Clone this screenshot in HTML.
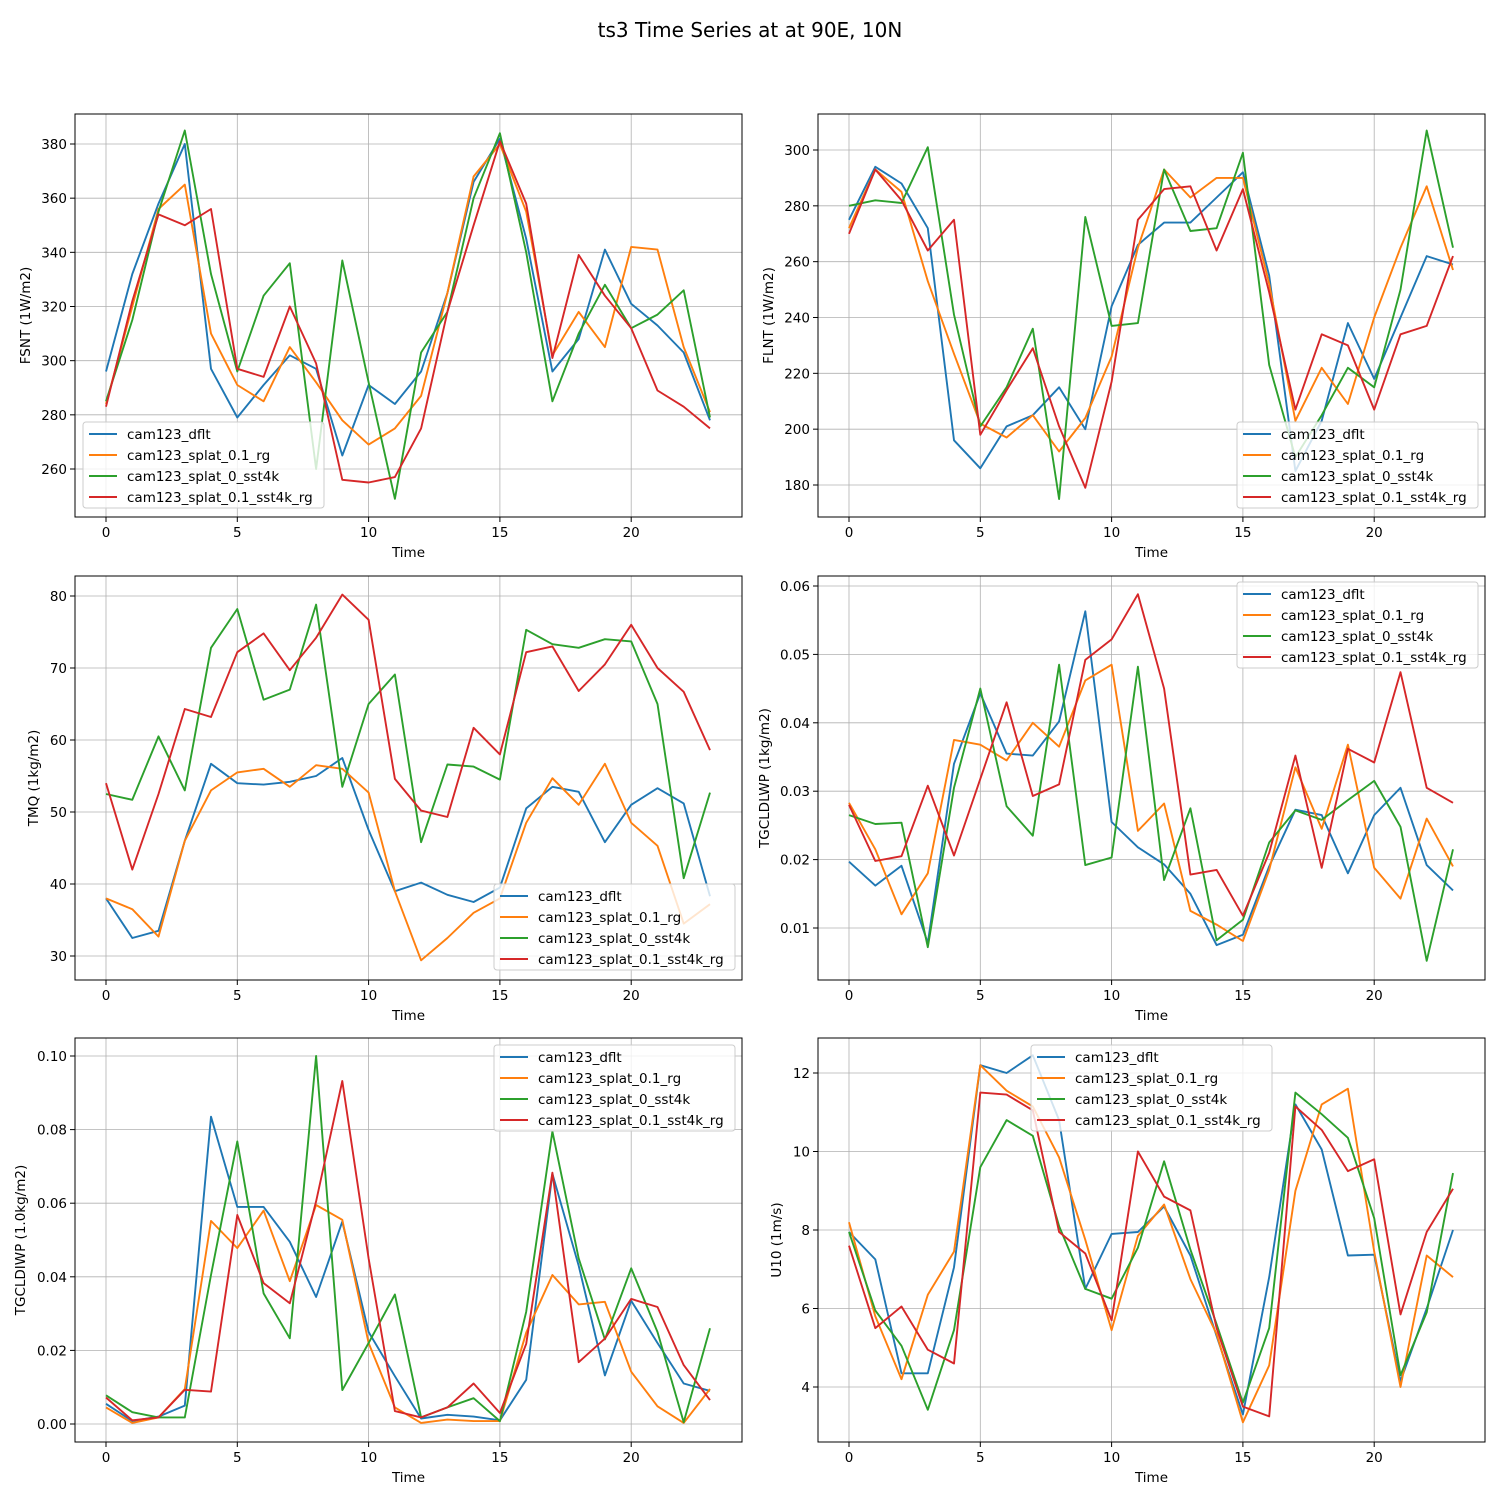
<!DOCTYPE html>
<html><head><meta charset="utf-8"><style>
body{margin:0;background:#fff;font-family:"DejaVu Sans",sans-serif}
svg text{font-family:"DejaVu Sans","Liberation Sans",sans-serif}
</style></head><body>
<svg id="chart" width="1500" height="1500" xmlns="http://www.w3.org/2000/svg">
<text x="750" y="37" text-anchor="middle" font-size="20">ts3 Time Series at at 90E, 10N</text>
</svg>
<script>
const seriesNames = ["cam123_dflt","cam123_splat_0.1_rg","cam123_splat_0_sst4k","cam123_splat_0.1_sst4k_rg"];
const colors = ["#1f77b4","#ff7f0e","#2ca02c","#d62728"];
const xTicks = [0,5,10,15,20];
const fsntDflt = [296,332,358,380,297,279,291,302,297,265,291,284,296,325,366,382,345,296,308,341,321,313,303,278];
const fsntRg = [284,320,356,365,310,291,285,305,292,278,269,275,287,325,368,380,355,302,318,305,342,341,305,281];
const fsntSst = [285,315,355,385,332,296,324,336,260,337,292,249,303,318,360,384,340,285,310,328,312,317,326,279];
const fsntSstRg = [283,322,354,350,356,297,294,320,299,256,255,257,275,318,350,381,358,301,339,324,312,289,283,275];
const flntDflt = [275,294,288,272,196,186,201,205,215,200,244,266,274,274,283,292,255,185,203,238,218,240,262,259];
const flntRg = [272,293,285,253,227,202,197,205,192,204,226,265,293,283,290,290,252,203,222,209,240,265,287,257];
const flntSst = [280,282,281,301,241,201,215,236,175,276,237,238,293,271,272,299,223,190,205,222,215,250,307,265];
const flntSstRg = [270,293,282,264,275,198,214,229,201,179,217,275,286,287,264,286,249,207,234,230,207,234,237,262];
const tmqDflt = [38,32.5,33.5,46,56.7,54,53.8,54.2,55,57.5,47.5,39,40.2,38.5,37.5,39.5,50.5,53.5,52.8,45.8,51,53.3,51.2,38.3];
const tmqRg = [38,36.5,32.7,46,53,55.5,56,53.5,56.5,56,52.7,39,29.4,32.5,36,38,48.5,54.7,51,56.7,48.5,45.3,34.5,37.2];
const tmqSst = [52.5,51.7,60.5,53,72.8,78.2,65.6,67,78.8,53.5,65,69.1,45.8,56.6,56.3,54.5,75.3,73.3,72.8,74,73.7,65,40.8,52.7];
const tmqSstRg = [54,42,52.5,64.3,63.2,72.2,74.8,69.7,74.2,80.2,76.7,54.6,50.2,49.3,61.7,58,72.2,73,66.8,70.5,76,70,66.7,58.6];
const lwpDflt = [.0197,.0162,.0191,.0078,.034,.0443,.0355,.0352,.0402,.0563,.0255,.0218,.0193,.015,.0075,.009,.019,.0273,.0265,.018,.0265,.0305,.0192,.0155];
const lwpRg = [.0283,.0215,.012,.018,.0375,.0368,.0345,.04,.0365,.0462,.0485,.0242,.0282,.0125,.0105,.0081,.0185,.0335,.0245,.0368,.0188,.0143,.026,.019];
const lwpSst = [.0265,.0252,.0254,.0072,.0305,.045,.0278,.0235,.0485,.0192,.0203,.0482,.017,.0275,.0082,.0112,.0225,.0272,.0258,.0287,.0315,.0248,.0052,.0215];
const lwpSstRg = [.028,.0198,.0205,.0308,.0206,.0318,.043,.0293,.031,.0492,.0522,.0588,.045,.0178,.0185,.0118,.021,.0352,.0188,.0362,.0342,.0474,.0305,.0283];
const iwpDflt = [.0055,.0008,.002,.005,.0835,.059,.059,.0495,.0345,.055,.025,.013,.0015,.0025,.002,.001,.012,.068,.043,.0132,.0335,.022,.011,.009];
const iwpRg = [.0045,.0003,.0018,.0095,.0552,.0478,.058,.0388,.0595,.0555,.022,.0045,.0003,.0012,.0008,.0008,.0248,.0405,.0325,.0332,.0142,.0048,.0003,.0095];
const iwpSst = [.0078,.0032,.0018,.0018,.0405,.0768,.0355,.0233,.1,.0092,.022,.0352,.0018,.0045,.007,.0008,.0305,.0795,.045,.023,.0423,.025,.0005,.026];
const iwpSstRg = [.0072,.001,.0018,.0093,.0088,.0568,.0383,.0328,.0605,.0932,.045,.0035,.0018,.0045,.011,.003,.0218,.0683,.0168,.0232,.034,.0318,.016,.0065];
const u10Dflt = [7.95,7.25,4.35,4.35,7.05,12.2,12.0,12.45,10.8,6.5,7.9,7.95,8.6,7.35,5.3,3.3,6.8,11.2,10.05,7.35,7.37,4.15,6.0,8.0];
const u10Rg = [8.2,5.8,4.2,6.35,7.45,12.2,11.55,11.15,9.85,7.75,5.45,7.85,8.65,6.75,5.35,3.1,4.55,9.0,11.2,11.6,7.45,4.0,7.35,6.8];
const u10Sst = [7.95,5.95,5.05,3.42,5.45,9.6,10.8,10.4,8.1,6.5,6.25,7.55,9.75,7.5,5.6,3.6,5.5,11.5,10.95,10.35,8.3,4.3,5.9,9.45];
const u10SstRg = [7.6,5.5,6.05,4.95,4.6,11.5,11.45,11.05,7.95,7.4,5.7,10.0,8.85,8.5,5.5,3.5,3.25,11.15,10.55,9.5,9.8,5.85,7.95,9.05];
const fsntTicks = [260,280,300,320,340,360,380];
const flntTicks = [180,200,220,240,260,280,300];
const tmqTicks = [30,40,50,60,70,80];
const lwpTicks = [0.01,0.02,0.03,0.04,0.05,0.06];
const iwpTicks = [0.00,0.02,0.04,0.06,0.08,0.10];
const u10Ticks = [4,6,8,10,12];

const NS="http://www.w3.org/2000/svg";
const svg=document.getElementById('chart');
function mk(tag,attrs,parent){const e=document.createElementNS(NS,tag);for(const k in attrs)e.setAttribute(k,attrs[k]);(parent||svg).appendChild(e);return e;}

const panels=[
 {name:"fsnt",label:"FSNT (1W/m2)",L:75,T:114,R:742,B:517,x0:106,x5:237.3,v1:260,p1:469,v2:380,p2:144,ticks:fsntTicks,dec:0,data:[fsntDflt,fsntRg,fsntSst,fsntSstRg],leg:[83,422],lx:30},
 {name:"flnt",label:"FLNT (1W/m2)",L:818,T:114,R:1485,B:517,x0:849,x5:980.3,v1:180,p1:485,v2:300,p2:150,ticks:flntTicks,dec:0,data:[flntDflt,flntRg,flntSst,flntSstRg],leg:[1237,422],lx:773},
 {name:"tmq",label:"TMQ (1kg/m2)",L:75,T:576,R:742,B:980,x0:106,x5:237.3,v1:30,p1:956,v2:80,p2:596,ticks:tmqTicks,dec:0,data:[tmqDflt,tmqRg,tmqSst,tmqSstRg],leg:[494,884],lx:38},
 {name:"tgcldlwp",label:"TGCLDLWP (1kg/m2)",L:818,T:576,R:1485,B:980,x0:849,x5:980.3,v1:0.01,p1:928,v2:0.06,p2:586,ticks:lwpTicks,dec:2,data:[lwpDflt,lwpRg,lwpSst,lwpSstRg],leg:[1237,582],lx:769},
 {name:"tgcldiwp",label:"TGCLDIWP (1.0kg/m2)",L:75,T:1038,R:742,B:1442,x0:106,x5:237.3,v1:0,p1:1424,v2:0.1,p2:1056,ticks:iwpTicks,dec:2,data:[iwpDflt,iwpRg,iwpSst,iwpSstRg],leg:[494,1045],lx:25},
 {name:"u10",label:"U10 (1m/s)",L:818,T:1038,R:1485,B:1442,x0:849,x5:980.3,v1:4,p1:1387,v2:12,p2:1073,ticks:u10Ticks,dec:0,data:[u10Dflt,u10Rg,u10Sst,u10SstRg],leg:[1031,1045],lx:781}
];

panels.forEach(p=>{
 const g=mk('g',{});
 
 
 const xs=v=>p.x0+(p.x5-p.x0)*v/5;
 const ys=v=>p.p1+(v-p.v1)*(p.p2-p.p1)/(p.v2-p.v1);
 xTicks.forEach(t=>{
  const gl=mk('line',{x1:xs(t),x2:xs(t),y1:p.T,y2:p.B,stroke:"#b0b0b0","stroke-width":0.8},g);
  
  mk('line',{x1:xs(t),x2:xs(t),y1:p.B,y2:p.B+5,stroke:"#000"},g);
  const tl=mk('text',{x:xs(t),y:p.B+20,"text-anchor":"middle","font-size":13.5},g);
  tl.textContent=t;
  
 });
 p.ticks.forEach(t=>{
  const y=ys(t);
  const gl=mk('line',{x1:p.L,x2:p.R,y1:y,y2:y,stroke:"#b0b0b0","stroke-width":0.8},g);
  
  mk('line',{x1:p.L-5,x2:p.L,y1:y,y2:y,stroke:"#000"},g);
  const tl=mk('text',{x:p.L-8,y:y+5,"text-anchor":"end","font-size":13.5},g);
  tl.textContent=t.toFixed(p.dec);
  
 });
 p.data.forEach((arr,i)=>{
  const d=arr.map((v,j)=>(j?'L':'M')+xs(j).toFixed(1)+','+ys(v).toFixed(1)).join(' ');
  const pl=mk('path',{d:d,fill:"none",stroke:colors[i],"stroke-width":1.9,"stroke-linejoin":"round"},g);
  
  
 });
 const fr=mk('rect',{x:p.L,y:p.T,width:p.R-p.L,height:p.B-p.T,fill:"none",stroke:"#000","stroke-width":1},g);
 
 const xl=mk('text',{x:(p.L+p.R)/2,y:p.B+40,"text-anchor":"middle","font-size":13.5},g);
 xl.textContent="Time";
 
 const cy=(p.T+p.B)/2;
 const yl=mk('text',{x:p.lx,y:cy,"text-anchor":"middle","font-size":13.5,transform:`rotate(-90 ${p.lx} ${cy})`},g);
 yl.textContent=p.label;
 
 const lg=mk('g',{},g);
 
 const [lx,ly]=p.leg;
 mk('rect',{x:lx,y:ly,width:241,height:86,rx:3,fill:"#fff","fill-opacity":0.8,stroke:"#ccc"},lg);
 seriesNames.forEach((n,i)=>{
  const yy=ly+12+i*21;
  const e=mk('g',{},lg);
  
  mk('line',{x1:lx+6,x2:lx+34,y1:yy,y2:yy,stroke:colors[i],"stroke-width":1.9},e);
  const t=mk('text',{x:lx+44,y:yy+5,"font-size":13.5},e);
  t.textContent=n;
 });
});
</script>
</body></html>
